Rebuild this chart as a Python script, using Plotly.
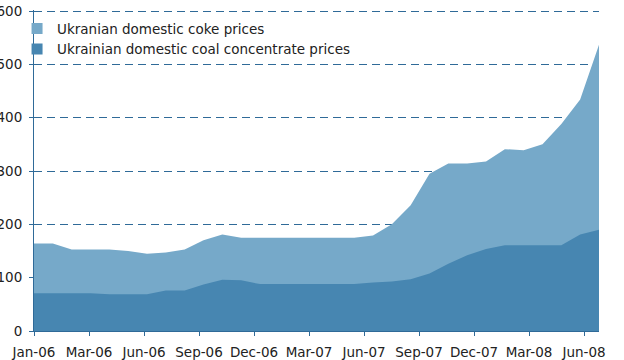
import plotly.graph_objects as go

months = ["Jan-06","Feb-06","Mar-06","Apr-06","May-06","Jun-06","Jul-06","Aug-06","Sep-06","Oct-06",
          "Nov-06","Dec-06","Jan-07","Feb-07","Mar-07","Apr-07","May-07","Jun-07","Jul-07","Aug-07",
          "Sep-07","Oct-07","Nov-07","Dec-07","Jan-08","Feb-08","Mar-08","Apr-08","May-08","Jun-08","Jul-08"]
coke = [164, 164, 153, 153, 153, 150, 145, 147, 153, 170,
        181, 175, 175, 175, 175, 175, 175, 175, 179, 200,
        236, 295, 314, 314, 318, 341, 339, 350, 388, 434, 537]
coal = [71, 71, 71, 71, 69, 69, 69, 76, 76, 87,
        96, 95, 88, 88, 88, 88, 88, 88, 91, 93,
        97, 108, 126, 142, 154, 161, 161, 161, 161, 181, 190]
tick_labels = ["Jan-06","Mar-06","Jun-06","Sep-06","Dec-06","Mar-07","Jun-07","Sep-07","Dec-07","Mar-08","Jun-08"]

coke_name = "Ukranian domestic coke prices"
coal_name = "Ukrainian domestic coal concentrate prices"
light = "#76a9c9"
dark = "#4786b1"
axis_col = "#2f6a98"

x = list(range(len(months)))
tick_step = 55 / (565 / 30)
tickvals = [i * tick_step for i in range(len(tick_labels))]

fig = go.Figure()
fig.add_trace(go.Scatter(x=x, y=coke, fill="tozeroy", mode="none", fillcolor=light,
                         showlegend=False, hoverinfo="skip"))
fig.add_trace(go.Scatter(x=x, y=coal, fill="tozeroy", mode="none", fillcolor=dark,
                         showlegend=False, hoverinfo="skip"))
fig.add_trace(go.Scatter(x=[None], y=[None], mode="markers", name=coke_name,
                         marker=dict(symbol="square", size=11, color=light)))
fig.add_trace(go.Scatter(x=[None], y=[None], mode="markers", name=coal_name,
                         marker=dict(symbol="square", size=11, color=dark)))

font = dict(family="DejaVu Sans", size=13.5, color="#222222")
fig.update_layout(
    width=624, height=360,
    margin=dict(l=34, r=25, t=10, b=29, autoexpand=False),
    paper_bgcolor="white", plot_bgcolor="white",
    font=font,
    legend=dict(x=-0.03, y=0.99, xanchor="left", yanchor="top", bgcolor="rgba(0,0,0,0)",
                font=dict(family="DejaVu Sans", size=13.5, color="#222222"),
                tracegroupgap=0, itemwidth=30),
    xaxis=dict(range=[0, 30], tickvals=tickvals, ticktext=tick_labels, showgrid=False,
               zeroline=False, showline=True, linecolor=axis_col, linewidth=1,
               ticks="outside", ticklen=4, tickcolor=axis_col, automargin=False,
               ticklabelstandoff=5),
    yaxis=dict(range=[0, 602], tickvals=[0, 100, 200, 300, 400, 500, 600],
               showgrid=True, gridcolor=axis_col, griddash="8px,5px", gridwidth=1,
               zeroline=False, showline=True, linecolor=axis_col, linewidth=1,
               ticks="outside", ticklen=4, tickcolor=axis_col, automargin=False,
               ticklabelstandoff=4),
)
fig.write_html("out.html", config={"displayModeBar": False},
               post_script="document.body.style.margin='0';")
